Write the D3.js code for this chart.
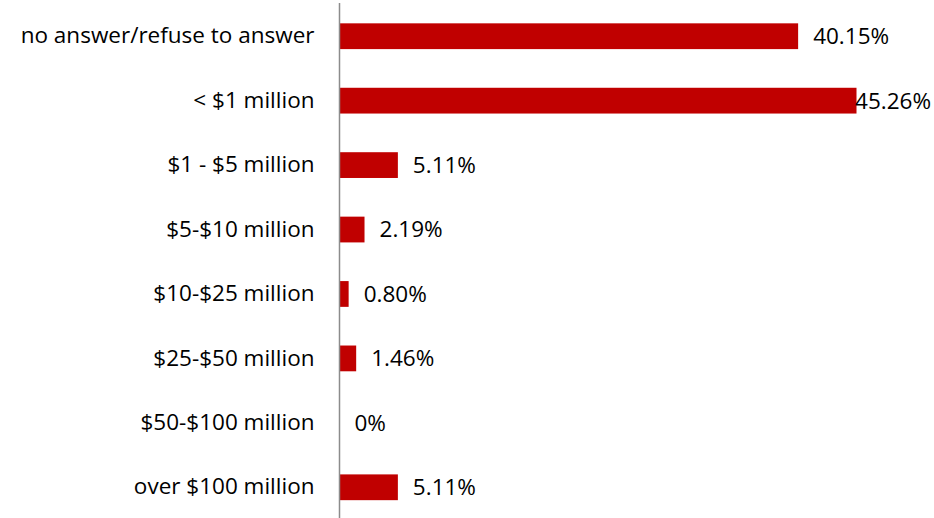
<!DOCTYPE html>
<html>
<head>
<meta charset="utf-8">
<script src="https://cdn.jsdelivr.net/npm/d3@7"></script>
<style>
  html, body { margin: 0; padding: 0; background: #fff; }
  svg { display: block; }
  text { font-family: "Open Sans", Lato, sans-serif; fill: #000; }
</style>
</head>
<body>
<svg id="chart" width="934" height="518"></svg>
<script>
const categories = [
  "no answer/refuse to answer",
  "< $1 million",
  "$1 - $5 million",
  "$5-$10 million",
  "$10-$25 million",
  "$25-$50 million",
  "$50-$100 million",
  "over $100 million"
];
const values = [40.15, 45.26, 5.11, 2.19, 0.80, 1.46, 0, 5.11];
const valueLabels = ["40.15%", "45.26%", "5.11%", "2.19%", "0.80%", "1.46%", "0%", "5.11%"];

const W = 934, H = 518;
const FONT = "'Open Sans', Lato, sans-serif";
const FS = 22.5;
const svg = d3.select("#chart");

const x = d3.scaleLinear().domain([0, 45.26]).range([339.5, 856.5]);
const y = d3.scaleBand().domain(categories).range([4, 519.5]).paddingInner(0.6).paddingOuter(0.3);

// bars
svg.append("g").selectAll("rect")
  .data(categories)
  .join("rect")
  .attr("x", x(0))
  .attr("y", d => y(d))
  .attr("width", (d, i) => x(values[i]) - x(0))
  .attr("height", y.bandwidth())
  .attr("fill", "#C00000");

// vertical category axis
const axis = d3.axisLeft(y).tickSize(0).tickPadding(25);
const g = svg.append("g").attr("transform", `translate(${x(0)},0)`).call(axis);
g.select(".domain").attr("d", `M0,3V${H}`).attr("stroke", "#8c8c8c").attr("stroke-width", 1.5);
g.selectAll(".tick text")
  .style("font-family", FONT)
  .attr("font-size", FS)
  .attr("fill", "#000");

// value labels
svg.append("g").selectAll("text")
  .data(categories)
  .join("text")
  .style("font-family", FONT)
  .attr("font-size", FS)
  .attr("dy", "0.35em")
  .attr("y", d => y(d) + y.bandwidth() / 2)
  .text((d, i) => valueLabels[i])
  .attr("x", function(d, i) {
    const w = this.getComputedTextLength();
    return Math.min(x(values[i]) + 15, W - 3 - w);
  });
</script>
</body>
</html>
